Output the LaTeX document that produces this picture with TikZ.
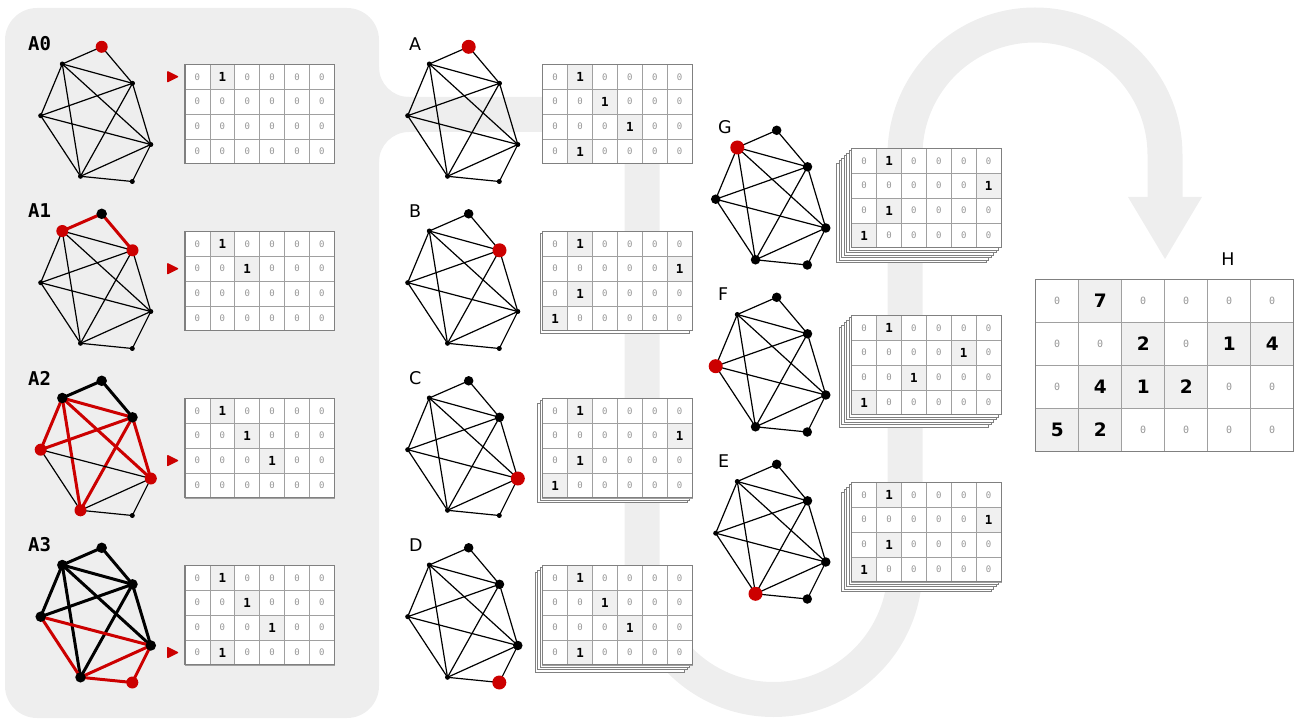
\documentclass[tikz,border=0pt]{standalone}
\usepackage{fontspec}
\setmainfont{DejaVu Sans}
\newfontfamily\monof{DejaVu Sans Mono}
\pgfdeclarelayer{bandlayer}
\pgfdeclarelayer{edgelayer}
\pgfsetlayers{bandlayer,edgelayer,main}
\definecolor{bgc}{RGB}{238,238,238}
\definecolor{myred}{RGB}{204,0,0}
\definecolor{gridc}{RGB}{160,160,160}
\definecolor{framec}{RGB}{128,128,128}
\definecolor{hic}{RGB}{240,240,240}
\definecolor{zeroc}{RGB}{150,150,150}

\tikzset{
  vs/.style={circle,fill=black,inner sep=0pt,minimum size=5pt},
  vb/.style={circle,fill=black,inner sep=0pt,minimum size=9.5pt},
  vr/.style={circle,fill=myred,inner sep=0pt,minimum size=14pt},
  vb1/.style={circle,fill=black,inner sep=0pt,minimum size=10.5pt},
  vr1/.style={circle,fill=myred,inner sep=0pt,minimum size=12pt},
  et/.style={black,line width=1.2pt},
  ek/.style={black,line width=3pt},
  er/.style={myred,line width=3pt},
  czero/.style={draw=gridc,line width=0.8pt,fill=white,minimum size=24.9pt,inner sep=0pt,
    font=\monof\fontsize{9}{10}\selectfont,text=zeroc},
  cone/.style={czero,fill=hic,font=\monof\bfseries\fontsize{12.5}{13}\selectfont,text=black},
  hzero/.style={draw=gridc,line width=1pt,fill=white,minimum size=43pt,inner sep=0pt,
    font=\monof\fontsize{10}{11}\selectfont,text=zeroc},
  hone/.style={hzero,fill=hic,font=\bfseries\fontsize{18.5}{20}\selectfont,text=black},
  lbl/.style={inner sep=0pt,font=\fontsize{17.5}{20}\selectfont,text=black},
  lbla/.style={inner sep=0pt,font=\monof\bfseries\fontsize{19}{21}\selectfont,text=black},
}

\def\vxs{{101.7,62.3,132.5,40.7,150.8,80.5,132.3}}
\def\vys{{46.8,64,83.3,115.7,144.5,176.3,181.5}}
\def\eas{{1,1,2,2,2,2,3,3,3,4,4,5,5,6}}
\def\ebs{{2,3,3,4,5,6,4,5,6,5,6,6,7,7}}

\newcommand{\grph}[5]{%
  \foreach \s [count=\i] in {#4} {%
    \pgfmathsetmacro\xx{#2+\vxs[\i-1]}%
    \pgfmathsetmacro\yy{#3+\vys[\i-1]}%
    \node[\s] (#1v\i) at (\xx,\yy) {};
  }%
  \foreach \s [count=\i] in {#5} {%
    \pgfmathtruncatemacro\ea{\eas[\i-1]}%
    \pgfmathtruncatemacro\eb{\ebs[\i-1]}%
    \begin{pgfonlayer}{edgelayer}
      \draw[\s] (#1v\ea.center) -- (#1v\eb.center);
    \end{pgfonlayer}
  }%
}

\newcommand{\mtx}[5]{%
  \ifnum#4>0
    \foreach \k in {#4,...,1}{\draw[framec,fill=white,line width=0.9pt] ({#2-2.5*\k},{#3+2.5*\k}) rectangle ++(149.4,99.6);}%
  \fi
  \foreach \r/\c in {#5}{%
    \foreach \j in {1,...,6}{%
      \ifnum\j=\c\relax
        \node[cone] (#1-\r-\j) at ({#2+(\j-0.5)*24.9},{#3+(\r-0.5)*24.9}) {1};%
      \else
        \node[czero] (#1-\r-\j) at ({#2+(\j-0.5)*24.9},{#3+(\r-0.5)*24.9}) {0};%
      \fi
    }%
  }%
  \draw[framec,line width=1.1pt] (#2,#3) rectangle ++(149.4,99.6);%
}

\newcommand{\mk}[1]{\fill[myred,rounded corners=1pt] (167,#1-6) -- (179,#1) -- (167,#1+6) -- cycle;}

\begin{document}
\begin{tikzpicture}[x=1pt,y=-1pt]
\useasboundingbox (0,0) rectangle (1294,719);
% background band
\begin{pgfonlayer}{bandlayer}
  \fill[bgc,rounded corners=32pt] (5,8) rectangle (379,718);
  \fill[bgc] (379,67) arc[start angle=180,end angle=90,radius=30] -- (379,97) -- cycle;
  \fill[bgc] (379,162) arc[start angle=180,end angle=270,radius=30] -- (379,132) -- cycle;
  \draw[bgc,line width=35pt] (370,114.5) -- (642,114.5) -- (642,568)
     arc[start angle=180,end angle=0,radius=131.5] -- (905,155)
     arc[start angle=180,end angle=360,radius=130] -- (1165,199);
  \fill[bgc] (1128,197) -- (1202,197) -- (1165,259) -- cycle;
\end{pgfonlayer}

% column 1
\node[lbla,anchor=west] (LA0) at (28,44) {A0};
\node[lbla,anchor=west] (LA1) at (28,211) {A1};
\node[lbla,anchor=west] (LA2) at (28,378) {A2};
\node[lbla,anchor=west] (LA3) at (28,545) {A3};
\grph{ga0}{0}{0}{vr1,vs,vs,vs,vs,vs,vs}{et,et,et,et,et,et,et,et,et,et,et,et,et,et}
\grph{ga1}{0}{167}{vb1,vr1,vr1,vs,vs,vs,vs}{er,er,et,et,et,et,et,et,et,et,et,et,et,et}
\grph{ga2}{0}{334}{vb1,vb1,vb1,vr1,vr1,vr1,vs}{ek,ek,er,er,er,er,er,er,er,et,et,et,et,et}
\grph{ga3}{0}{501}{vb1,vb1,vb1,vb1,vb1,vb1,vr1}{ek,ek,ek,ek,ek,ek,ek,ek,ek,er,er,er,er,er}
\mtx{MA0}{185}{64.3}{0}{1/2,2/0,3/0,4/0}
\mtx{MA1}{185}{231.3}{0}{1/2,2/3,3/0,4/0}
\mtx{MA2}{185}{398.3}{0}{1/2,2/3,3/4,4/0}
\mtx{MA3}{185}{565.3}{0}{1/2,2/3,3/4,4/2}
\mk{76.75}
\mk{268.7}
\mk{460.6}
\mk{652.5}

% column 2
\node[lbl,anchor=west] (LA) at (409,44) {A};
\node[lbl,anchor=west] (LB) at (409,211) {B};
\node[lbl,anchor=west] (LC) at (409,378) {C};
\node[lbl,anchor=west] (LD) at (409,545) {D};
\grph{gA}{367}{0}{vr,vs,vs,vs,vs,vs,vs}{et,et,et,et,et,et,et,et,et,et,et,et,et,et}
\grph{gB}{367}{167}{vb,vs,vr,vs,vs,vs,vs}{et,et,et,et,et,et,et,et,et,et,et,et,et,et}
\grph{gC}{367}{334}{vb,vs,vb,vs,vr,vs,vs}{et,et,et,et,et,et,et,et,et,et,et,et,et,et}
\grph{gD}{367}{501}{vb,vs,vb,vs,vb,vs,vr}{et,et,et,et,et,et,et,et,et,et,et,et,et,et}
\mtx{MA}{542.7}{64.3}{0}{1/2,2/3,3/4,4/2}
\mtx{MB}{542.7}{231.3}{1}{1/2,2/6,3/2,4/1}
\mtx{MC}{542.7}{398.3}{2}{1/2,2/6,3/2,4/1}
\mtx{MD}{542.7}{565.3}{3}{1/2,2/3,3/4,4/2}

% column 3
\node[lbl,anchor=west] (LG) at (718,127.5) {G};
\node[lbl,anchor=west] (LF) at (718,294.5) {F};
\node[lbl,anchor=west] (LE) at (718,461.5) {E};
\grph{gG}{675}{83.5}{vb,vr,vb,vb,vb,vb,vb}{et,et,et,et,et,et,et,et,et,et,et,et,et,et}
\grph{gF}{675}{250.5}{vb,vs,vb,vr,vb,vb,vb}{et,et,et,et,et,et,et,et,et,et,et,et,et,et}
\grph{gE}{675}{417.5}{vb,vs,vb,vs,vb,vr,vb}{et,et,et,et,et,et,et,et,et,et,et,et,et,et}
\mtx{MG}{851.7}{148.3}{6}{1/2,2/6,3/2,4/1}
\mtx{MF}{851.7}{315.3}{5}{1/2,2/5,3/3,4/1}
\mtx{ME}{851.7}{482.3}{4}{1/2,2/6,3/2,4/1}

% H
\node[lbl] (LH) at (1228,259) {H};
\foreach \vals [count=\r] in {{0,7,0,0,0,0},{0,0,2,0,1,4},{0,4,1,2,0,0},{5,2,0,0,0,0}} {
  \foreach \v [count=\j] in \vals {
    \ifnum\v=0
      \node[hzero] (H-\r-\j) at ({1035.7+(\j-0.5)*43},{279.3+(\r-0.5)*43}) {0};
    \else
      \node[hone] (H-\r-\j) at ({1035.7+(\j-0.5)*43},{279.3+(\r-0.5)*43}) {\v};
    \fi
  }
}
\draw[framec,line width=1.3pt] (1035.7,279.3) rectangle (1293.3,451.3);
\end{tikzpicture}
\end{document}
